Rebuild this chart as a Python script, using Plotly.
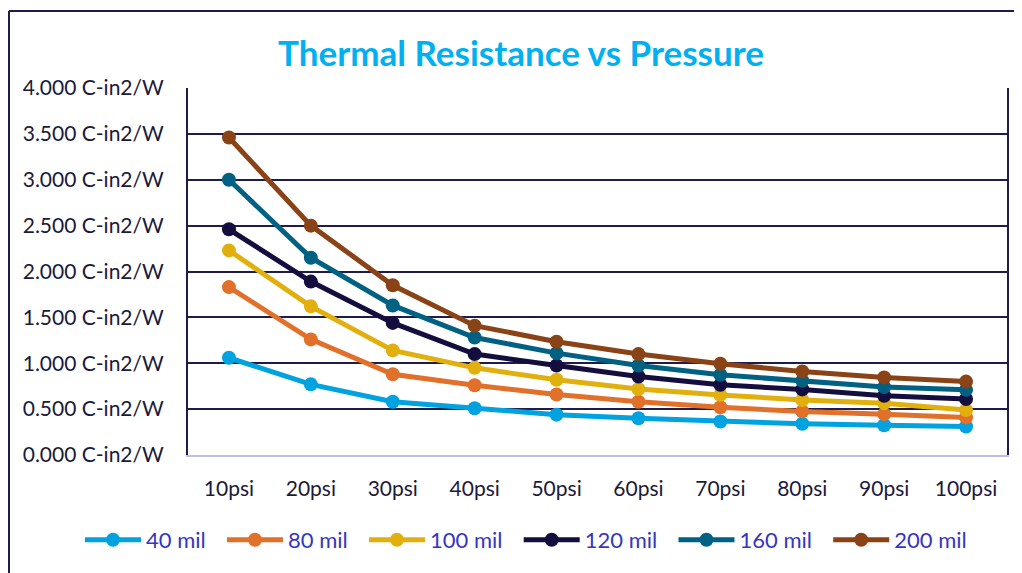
import plotly.graph_objects as go

categories = ["10psi", "20psi", "30psi", "40psi", "50psi", "60psi", "70psi", "80psi", "90psi", "100psi"]
mil_40 = [1.06, 0.77, 0.58, 0.51, 0.44, 0.40, 0.365, 0.34, 0.325, 0.31]
mil_80 = [1.83, 1.26, 0.88, 0.76, 0.66, 0.58, 0.52, 0.475, 0.445, 0.41]
mil_100 = [2.23, 1.62, 1.14, 0.95, 0.82, 0.72, 0.655, 0.60, 0.565, 0.49]
mil_120 = [2.46, 1.89, 1.44, 1.10, 0.975, 0.855, 0.765, 0.715, 0.645, 0.61]
mil_160 = [3.00, 2.15, 1.63, 1.28, 1.11, 0.975, 0.875, 0.81, 0.74, 0.71]
mil_200 = [3.46, 2.50, 1.85, 1.41, 1.235, 1.10, 0.995, 0.91, 0.845, 0.80]

series = [
    ("40 mil", mil_40, "#00A2E0"),
    ("80 mil", mil_80, "#E0702A"),
    ("100 mil", mil_100, "#E2B00E"),
    ("120 mil", mil_120, "#130E3E"),
    ("160 mil", mil_160, "#006183"),
    ("200 mil", mil_200, "#8A4316"),
]

OFF = 8  # page body margin
W, H = 1022, 573
L, R, T, B = 188 - OFF, 1007 - OFF, 88 - OFF, 455 - OFF

fig = go.Figure()
for name, vals, col in series:
    fig.add_trace(go.Scatter(
        x=categories, y=vals, name=name + "\u00a0\u00a0", mode="lines+markers",
        line=dict(color=col, width=5),
        marker=dict(color=col, size=14, symbol="circle"),
    ))

def px_x(p):
    return (p - OFF - L) / (R - L)

def px_y(p):
    return (B - (p - OFF)) / (B - T)

FONT = "Lato, Calibri, sans-serif"
fig.update_layout(
    width=W, height=H,
    margin=dict(l=L, r=W - R, t=T, b=H - B),
    paper_bgcolor="white", plot_bgcolor="white",
    font=dict(family=FONT, size=21, color="#1a1a3a"),
    title=dict(text="<b>Thermal Resistance vs Pressure</b>",
               x=(521 - OFF) / W, xanchor="center", y=1 - (54 - OFF) / H, yanchor="middle",
               font=dict(size=35, color="#00B0F0", family=FONT)),
    showlegend=True,
    legend=dict(orientation="h", x=px_x(80), xanchor="left", y=px_y(540), yanchor="middle",
                font=dict(size=22, color="#3636C0"),
                itemwidth=56, bgcolor="rgba(0,0,0,0)"),
    xaxis=dict(showgrid=False, showline=True, linecolor="#BDBDE6", linewidth=2,
               ticks="", ticklabelstandoff=14, tickfont=dict(size=21, color="#1a1a3a"),
               range=[-0.5, 9.5]),
    yaxis=dict(range=[0, 4.0], dtick=0.5, tickformat=".3f", ticksuffix=" C-in2/W",
               showgrid=True, gridcolor="#1E1C4C", gridwidth=2,
               showline=True, linecolor="#1E1C4C", linewidth=2, mirror=True,
               zeroline=False, ticks="", ticklabelstandoff=18,
               tickfont=dict(size=21, color="#1a1a3a")),
    shapes=[
        dict(type="line", xref="paper", yref="paper", x0=px_x(9), x1=px_x(1040),
             y0=px_y(11), y1=px_y(11), line=dict(color="#1E1C4C", width=2)),
        dict(type="line", xref="paper", yref="paper", x0=px_x(9), x1=px_x(9),
             y0=px_y(11), y1=px_y(590), line=dict(color="#1E1C4C", width=2)),
    ],
)

fig.write_html("out.html")
